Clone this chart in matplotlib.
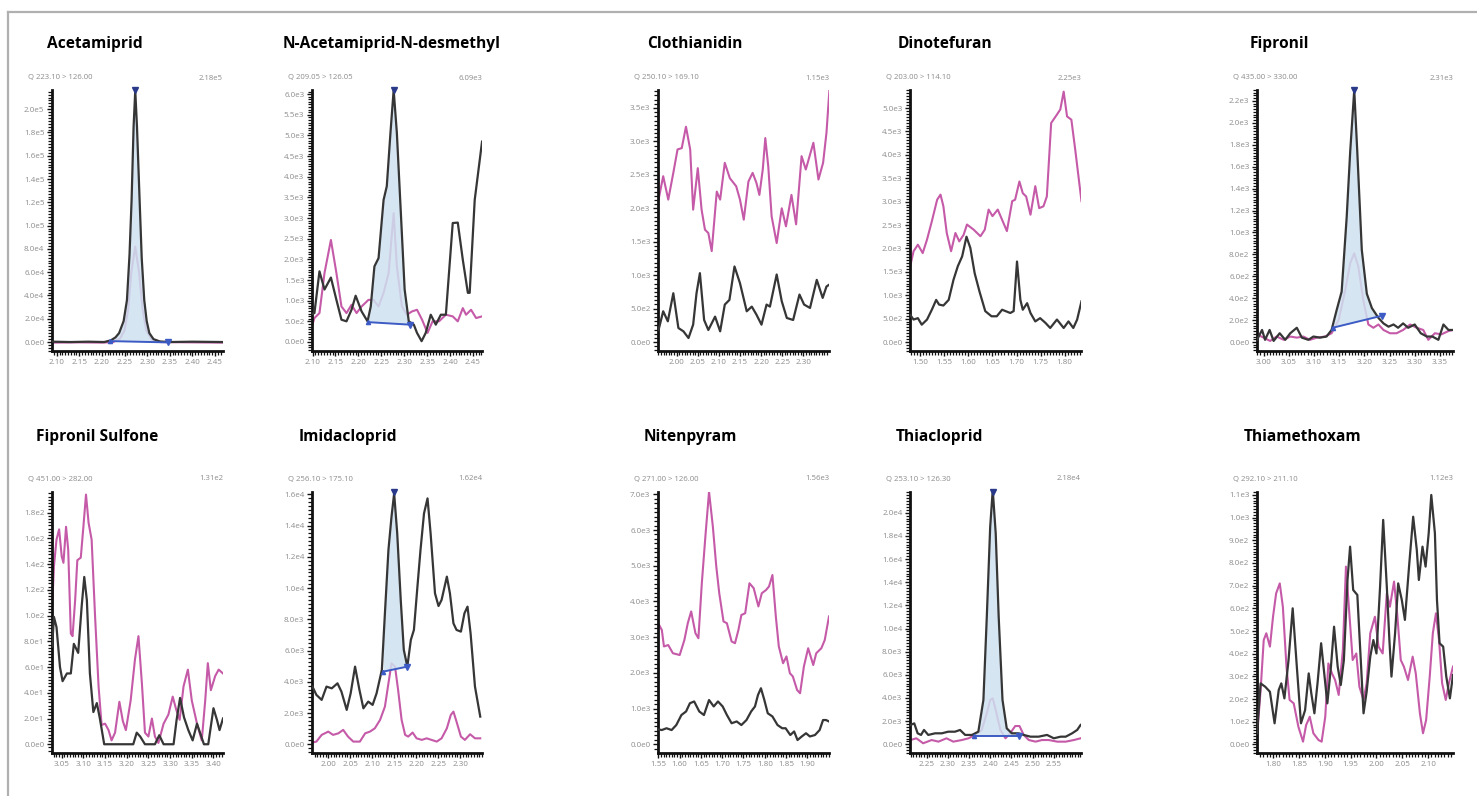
import numpy as np
import matplotlib
matplotlib.use("Agg")
import matplotlib.pyplot as plt
from matplotlib.lines import Line2D
from matplotlib.ticker import MultipleLocator, FixedLocator, FuncFormatter

# ---- data (retention time, intensity) ----
acet_bk_t = [2.090, 2.130, 2.170, 2.205, 2.220, 2.230, 2.238, 2.248, 2.2553, 2.261, 2.2656, 2.270, 2.2737,
             2.2775, 2.2833, 2.288, 2.2936, 2.299, 2.3048, 2.314, 2.328, 2.350, 2.400, 2.468]
acet_bk = [300, 0, 300, 0, 1500, 4000, 7700, 18000, 36000, 75000, 122000, 185000, 216000,
           185000, 122000, 72000, 36000, 18000, 7700, 2500, 500, 0, 300, 0]
acet_pk_t = [2.090, 2.150, 2.200, 2.225, 2.240, 2.250, 2.258, 2.265, 2.2737, 2.282, 2.290, 2.298, 2.310,
             2.330, 2.400, 2.468]
acet_pk = [-500, -300, -500, 0, 3000, 10000, 28000, 60000, 82000, 60000, 28000, 10000, 2000, 0, -300, -500]

nacet_bk_t = [2.094, 2.104, 2.115, 2.126, 2.140, 2.152, 2.163, 2.174, 2.185, 2.194, 2.207, 2.220, 2.227,
              2.235, 2.244, 2.255, 2.262, 2.270, 2.277, 2.284, 2.292, 2.301, 2.310, 2.321, 2.328, 2.338,
              2.347, 2.358, 2.369, 2.380, 2.391, 2.406, 2.417, 2.428, 2.439, 2.443, 2.454, 2.470]
nacet_bk = [660, 700, 1710, 1270, 1560, 1020, 540, 500, 780, 1120, 740, 500, 860, 1830, 2030, 3440,
            3770, 5060, 6100, 5060, 3280, 1270, 500, 420, 220, 20, 220, 660, 420, 660, 660, 2880,
            2890, 1990, 1190, 1190, 3440, 4850]
nacet_pk_t = [2.094, 2.104, 2.115, 2.126, 2.140, 2.152, 2.163, 2.174, 2.185, 2.196, 2.207, 2.222, 2.233,
              2.244, 2.255, 2.266, 2.277, 2.284, 2.295, 2.306, 2.317, 2.328, 2.339, 2.351, 2.362, 2.376,
              2.391, 2.406, 2.417, 2.428, 2.435, 2.446, 2.457, 2.470]
nacet_pk = [220, 580, 700, 1670, 2470, 1670, 860, 700, 900, 700, 860, 1020, 1020, 860, 1190, 1670,
            3120, 1830, 860, 660, 740, 780, 540, 220, 500, 500, 660, 620, 500, 820, 660, 780, 580, 620]

cloth_bk_t = [1.957, 1.968, 1.979, 1.992, 2.004, 2.016, 2.028, 2.039, 2.047, 2.055, 2.065, 2.075, 2.091,
              2.103, 2.114, 2.125, 2.137, 2.150, 2.166, 2.178, 2.189, 2.201, 2.213, 2.221, 2.237, 2.249,
              2.261, 2.276, 2.291, 2.302, 2.316, 2.332, 2.346, 2.355, 2.362]
cloth_bk = [180, 460, 310, 730, 210, 160, 60, 260, 730, 1030, 330, 180, 380, 160, 560, 630, 1130, 880,
            460, 530, 410, 260, 560, 530, 1010, 610, 360, 330, 710, 560, 510, 930, 660, 830, 860]
cloth_pk_t = [1.957, 1.968, 1.980, 1.992, 2.002, 2.012, 2.022, 2.032, 2.039, 2.050, 2.059, 2.067, 2.075,
              2.083, 2.095, 2.103, 2.114, 2.126, 2.141, 2.150, 2.159, 2.170, 2.180, 2.189, 2.196, 2.204,
              2.210, 2.217, 2.225, 2.237, 2.249, 2.259, 2.272, 2.283, 2.296, 2.306, 2.324, 2.336, 2.347,
              2.355, 2.362]
cloth_pk = [2130, 2480, 2130, 2530, 2880, 2900, 3220, 2880, 1980, 2600, 1980, 1680, 1630, 1360, 2250,
            2130, 2680, 2450, 2330, 2130, 1830, 2400, 2530, 2380, 2200, 2580, 3050, 2630, 1880, 1480,
            2000, 1730, 2200, 1760, 2780, 2580, 2980, 2430, 2680, 3130, 3770]

dino_bk_t = [1.479, 1.486, 1.495, 1.503, 1.514, 1.524, 1.533, 1.539, 1.548, 1.559, 1.569, 1.578, 1.587,
             1.596, 1.604, 1.613, 1.623, 1.635, 1.648, 1.659, 1.670, 1.687, 1.694, 1.701, 1.708, 1.713,
             1.722, 1.729, 1.739, 1.749, 1.760, 1.770, 1.784, 1.798, 1.808, 1.818, 1.826, 1.835]
dino_bk = [580, 480, 510, 370, 480, 690, 900, 800, 780, 900, 1330, 1620, 1830, 2250, 2010, 1470, 1080,
           660, 550, 550, 690, 620, 660, 1720, 900, 690, 830, 620, 440, 510, 410, 300, 480, 300, 440,
           300, 480, 870]
dino_pk_t = [1.479, 1.486, 1.495, 1.505, 1.514, 1.524, 1.535, 1.542, 1.548, 1.555, 1.564, 1.573, 1.581,
             1.590, 1.597, 1.611, 1.625, 1.634, 1.642, 1.650, 1.661, 1.680, 1.691, 1.697, 1.706, 1.713,
             1.720, 1.729, 1.739, 1.747, 1.756, 1.763, 1.772, 1.784, 1.791, 1.798, 1.805, 1.814, 1.822,
             1.835]
dino_pk = [1620, 1940, 2080, 1900, 2190, 2580, 3040, 3150, 2900, 2330, 1940, 2330, 2150, 2290, 2510,
           2400, 2260, 2400, 2830, 2690, 2830, 2370, 3010, 3040, 3430, 3180, 3110, 2720, 3330, 2860,
           2900, 3110, 4680, 4860, 4970, 5350, 4820, 4750, 4110, 3010]

fip_bk_t = [2.987, 2.997, 3.003, 3.012, 3.020, 3.032, 3.043, 3.053, 3.066, 3.076, 3.089, 3.099, 3.112,
            3.125, 3.135, 3.145, 3.155, 3.165, 3.172, 3.180, 3.186, 3.195, 3.205, 3.215, 3.228, 3.238,
            3.248, 3.258, 3.267, 3.277, 3.287, 3.300, 3.312, 3.324, 3.335, 3.347, 3.357, 3.367, 3.376]
fip_bk = [20, 110, 20, 110, 10, 80, 20, 80, 130, 40, 20, 50, 40, 50, 110, 290, 460, 1140, 1740, 2300,
          1740, 840, 440, 310, 220, 170, 140, 160, 130, 170, 130, 160, 80, 50, 50, 20, 160, 110, 110]
fip_pk_t = [2.987, 3.000, 3.013, 3.026, 3.040, 3.053, 3.066, 3.079, 3.092, 3.106, 3.122, 3.135, 3.149,
            3.162, 3.172, 3.180, 3.188, 3.198, 3.208, 3.218, 3.228, 3.238, 3.251, 3.264, 3.277, 3.291,
            3.304, 3.317, 3.327, 3.340, 3.353, 3.367, 3.376]
fip_pk = [70, 40, 10, 50, 20, 50, 40, 50, 20, 40, 50, 80, 200, 470, 720, 810, 690, 380, 160, 130, 160,
          110, 80, 80, 110, 160, 130, 110, 20, 80, 70, 100, 110]

fsulf_bk_t = [3.028, 3.032, 3.038, 3.046, 3.052, 3.062, 3.071, 3.078, 3.088, 3.096, 3.102, 3.108, 3.115,
              3.123, 3.131, 3.138, 3.148, 3.215, 3.223, 3.231, 3.242, 3.265, 3.275, 3.285, 3.308, 3.315,
              3.323, 3.332, 3.342, 3.352, 3.362, 3.369, 3.378, 3.388, 3.400, 3.408, 3.414, 3.422]
fsulf_bk = [76, 99, 91, 60, 49, 55, 55, 78, 71, 107, 130, 112, 55, 25, 32, 20, 0, 0, 9, 6, 0, 0, 7, 0,
            0, 19, 36, 21, 11, 3, 16, 9, 0, 0, 28, 19, 11, 20]
fsulf_pk_t = [3.028, 3.032, 3.038, 3.044, 3.050, 3.054, 3.060, 3.065, 3.071, 3.075, 3.081, 3.086, 3.094,
              3.100, 3.106, 3.112, 3.119, 3.127, 3.135, 3.142, 3.150, 3.158, 3.165, 3.173, 3.183, 3.191,
              3.198, 3.209, 3.219, 3.227, 3.235, 3.242, 3.250, 3.258, 3.265, 3.273, 3.285, 3.296, 3.306,
              3.314, 3.322, 3.331, 3.341, 3.350, 3.362, 3.373, 3.381, 3.387, 3.394, 3.404, 3.412, 3.422]
fsulf_pk = [107, 138, 159, 167, 146, 141, 169, 151, 86, 84, 112, 143, 145, 169, 194, 172, 159, 99, 45,
            15, 16, 11, 3, 9, 33, 18, 11, 34, 66, 84, 47, 9, 6, 20, 6, 1, 16, 23, 37, 27, 19, 45, 58,
            34, 16, 3, 34, 63, 42, 53, 58, 55]

imid_bk_t = [1.964, 1.973, 1.985, 1.996, 2.008, 2.021, 2.030, 2.042, 2.051, 2.061, 2.071, 2.080, 2.091,
             2.101, 2.110, 2.122, 2.129, 2.137, 2.144, 2.150, 2.157, 2.165, 2.172, 2.180, 2.188, 2.195,
             2.203, 2.210, 2.218, 2.226, 2.233, 2.243, 2.251, 2.258, 2.270, 2.277, 2.285, 2.292, 2.302,
             2.310, 2.317, 2.324, 2.334, 2.346]
imid_bk = [3690, 3160, 2840, 3690, 3580, 3900, 3370, 2200, 3260, 4970, 3480, 2300, 2730, 2520, 3260,
           4760, 8380, 12440, 14570, 16060, 13500, 9240, 6040, 4970, 6680, 7320, 10090, 12440, 14780,
           15740, 13500, 9660, 8850, 9240, 10730, 9660, 7740, 7320, 7210, 8380, 8810, 7100, 3690, 1770]
imid_pk_t = [1.964, 1.973, 1.985, 2.000, 2.011, 2.023, 2.034, 2.045, 2.057, 2.072, 2.084, 2.095, 2.106,
             2.118, 2.129, 2.137, 2.144, 2.152, 2.159, 2.167, 2.175, 2.182, 2.192, 2.201, 2.213, 2.224,
             2.235, 2.247, 2.258, 2.270, 2.279, 2.285, 2.292, 2.302, 2.311, 2.323, 2.334, 2.346]
imid_pk = [110, 170, 600, 810, 600, 700, 920, 490, 170, 170, 700, 810, 1020, 1560, 2410, 3900, 5180,
           4970, 3480, 1560, 600, 490, 750, 380, 280, 380, 280, 170, 380, 1020, 1880, 2090, 1450, 490,
           280, 640, 380, 380]

niten_bk_t = [1.549, 1.558, 1.569, 1.581, 1.592, 1.604, 1.615, 1.624, 1.634, 1.646, 1.657, 1.669, 1.680,
              1.690, 1.701, 1.711, 1.722, 1.734, 1.745, 1.757, 1.768, 1.777, 1.784, 1.791, 1.799, 1.807,
              1.818, 1.830, 1.841, 1.849, 1.860, 1.869, 1.877, 1.887, 1.897, 1.906, 1.918, 1.929, 1.937,
              1.944, 1.951]
niten_bk = [420, 400, 450, 400, 540, 820, 920, 1150, 1200, 920, 820, 1240, 1060, 1200, 1060, 820, 590,
            640, 540, 680, 920, 1060, 1380, 1570, 1240, 870, 780, 540, 450, 450, 260, 360, 120, 220,
            310, 220, 260, 400, 680, 680, 640]
niten_pk_t = [1.549, 1.558, 1.563, 1.573, 1.584, 1.600, 1.611, 1.619, 1.627, 1.637, 1.644, 1.652, 1.661,
              1.669, 1.678, 1.686, 1.693, 1.703, 1.711, 1.722, 1.730, 1.738, 1.745, 1.754, 1.764, 1.774,
              1.785, 1.793, 1.803, 1.810, 1.818, 1.826, 1.833, 1.843, 1.851, 1.859, 1.866, 1.876, 1.883,
              1.892, 1.902, 1.914, 1.921, 1.933, 1.941, 1.951]
niten_pk = [3400, 3200, 2740, 2780, 2550, 2500, 2920, 3390, 3720, 3110, 2970, 4510, 5910, 7070, 6090,
            4980, 4230, 3440, 3390, 2880, 2830, 3200, 3620, 3670, 4510, 4370, 3860, 4230, 4320, 4420,
            4740, 3580, 2740, 2270, 2460, 1990, 1900, 1520, 1430, 2180, 2690, 2220, 2550, 2690, 2920,
            3580]

thiac_bk_t = [2.212, 2.221, 2.229, 2.237, 2.244, 2.254, 2.270, 2.286, 2.301, 2.317, 2.329, 2.341, 2.357,
              2.372, 2.384, 2.392, 2.400, 2.406, 2.413, 2.420, 2.429, 2.439, 2.451, 2.467, 2.479, 2.495,
              2.514, 2.534, 2.550, 2.566, 2.578, 2.593, 2.605, 2.613]
thiac_bk = [1670, 1810, 950, 810, 1240, 810, 950, 950, 1090, 1090, 1240, 810, 810, 1090, 3830, 11020,
            18790, 21960, 18220, 11020, 3830, 1380, 950, 950, 810, 660, 660, 810, 520, 660, 660, 950,
            1240, 1670]
thiac_pk_t = [2.212, 2.226, 2.242, 2.262, 2.278, 2.297, 2.313, 2.333, 2.349, 2.364, 2.380, 2.392, 2.400,
              2.406, 2.413, 2.424, 2.436, 2.447, 2.459, 2.469, 2.479, 2.491, 2.507, 2.522, 2.538, 2.558,
              2.578, 2.597, 2.613]
thiac_pk = [370, 520, 90, 370, 230, 520, 230, 370, 520, 810, 1240, 2680, 3830, 3970, 2960, 1240, 520,
            950, 1580, 1580, 810, 370, 230, 370, 370, 230, 230, 370, 520]

thiam_bk_t = [1.769, 1.776, 1.785, 1.794, 1.803, 1.811, 1.816, 1.822, 1.830, 1.838, 1.846, 1.854, 1.862,
              1.869, 1.874, 1.880, 1.886, 1.893, 1.899, 1.905, 1.912, 1.918, 1.925, 1.931, 1.937, 1.944,
              1.949, 1.955, 1.963, 1.970, 1.975, 1.981, 1.988, 1.994, 2.000, 2.007, 2.013, 2.020, 2.025,
              2.029, 2.036, 2.042, 2.049, 2.055, 2.063, 2.071, 2.078, 2.082, 2.089, 2.095, 2.101, 2.106,
              2.113, 2.117, 2.122, 2.129, 2.135, 2.142, 2.148]
thiam_bk = [49, 269, 254, 232, 93, 240, 269, 203, 372, 600, 343, 93, 151, 313, 225, 137, 269, 446, 313,
            181, 343, 519, 343, 262, 372, 725, 872, 681, 659, 357, 137, 232, 387, 460, 401, 696, 990,
            696, 460, 299, 490, 710, 637, 549, 784, 1004, 857, 725, 872, 784, 931, 1100, 931, 637, 446,
            431, 299, 203, 306]
thiam_pk_t = [1.769, 1.776, 1.782, 1.787, 1.794, 1.800, 1.806, 1.813, 1.819, 1.826, 1.832, 1.840, 1.849,
              1.858, 1.864, 1.871, 1.878, 1.888, 1.894, 1.901, 1.907, 1.914, 1.920, 1.927, 1.935, 1.941,
              1.948, 1.954, 1.961, 1.967, 1.975, 1.981, 1.988, 1.997, 2.004, 2.012, 2.020, 2.026, 2.034,
              2.040, 2.047, 2.053, 2.061, 2.070, 2.076, 2.084, 2.090, 2.096, 2.103, 2.109, 2.115, 2.121,
              2.127, 2.134, 2.140, 2.148]
thiam_pk = [34, 240, 460, 490, 431, 563, 666, 710, 607, 343, 196, 181, 78, 12, 85, 122, 49, 19, 12, 122,
            357, 313, 284, 218, 416, 784, 563, 372, 401, 254, 196, 269, 490, 563, 431, 401, 666, 607,
            718, 578, 372, 343, 284, 387, 313, 137, 49, 107, 299, 490, 578, 460, 269, 196, 269, 343]

names = ["Acetamiprid", "N-Acetamiprid-N-desmethyl", "Clothianidin", "Dinotefuran", "Fipronil",
         "Fipronil Sulfone", "Imidacloprid", "Nitenpyram", "Thiacloprid", "Thiamethoxam"]
transitions = ["Q 223.10 > 126.00", "Q 209.05 > 126.05", "Q 250.10 > 169.10", "Q 203.00 > 114.10",
               "Q 435.00 > 330.00", "Q 451.00 > 282.00", "Q 256.10 > 175.10", "Q 271.00 > 126.00",
               "Q 253.10 > 126.30", "Q 292.10 > 211.10"]
max_labels = ["2.18e5", "6.09e3", "1.15e3", "2.25e3", "2.31e3", "1.31e2", "1.62e4", "1.56e3",
              "2.18e4", "1.12e3"]
xtick_labels = [["2.10", "2.15", "2.20", "2.25", "2.30", "2.35", "2.40", "2.45"],
                ["2.10", "2.15", "2.20", "2.25", "2.30", "2.35", "2.40", "2.45"],
                ["2.00", "2.05", "2.10", "2.15", "2.20", "2.25", "2.30"],
                ["1.50", "1.55", "1.60", "1.65", "1.70", "1.75", "1.80"],
                ["3.00", "3.05", "3.10", "3.15", "3.20", "3.25", "3.30", "3.35"],
                ["3.05", "3.10", "3.15", "3.20", "3.25", "3.30", "3.35", "3.40"],
                ["2.00", "2.05", "2.10", "2.15", "2.20", "2.25", "2.30"],
                ["1.55", "1.60", "1.65", "1.70", "1.75", "1.80", "1.85", "1.90"],
                ["2.25", "2.30", "2.35", "2.40", "2.45", "2.50", "2.55"],
                ["1.80", "1.85", "1.90", "1.95", "2.00", "2.05", "2.10"]]
ytick_step = [2e4, 5e2, 5e2, 5e2, 2e2, 2e1, 2e3, 1e3, 2e3, 1e2]
ytick_max = [2.0e5, 6.0e3, 3.5e3, 5.0e3, 2.2e3, 1.8e2, 1.6e4, 7.0e3, 2.0e4, 1.1e3]
xlims = [(2.0896, 2.4677), (2.0987, 2.4699), (1.9557, 2.361), (1.4786, 1.834), (2.987, 3.376),
         (3.0276, 3.422), (1.963, 2.350), (1.549, 1.951), (2.211, 2.614), (1.769, 2.148)]
ylims = [(-7.7e3, 2.165e5), (-218, 6100), (-134, 3769), (-192, 5385), (-82, 2300),
         (-6.8, 196), (-560, 16150), (-243, 7064), (-750, 21790), (-38, 1113)]

# integrated peaks: (start, end, baseline at start, baseline at end, apex time)
peaks = {0: (2.218, 2.345, 800, -300, 2.2737),
         1: (2.222, 2.312, 480, 420, 2.277),
         4: (3.137, 3.235, 130, 240, 3.180),
         6: (2.125, 2.180, 4650, 4970, 2.150),
         8: (2.361, 2.467, 720, 720, 2.406)}

traces = [(acet_bk_t, acet_bk, acet_pk_t, acet_pk), (nacet_bk_t, nacet_bk, nacet_pk_t, nacet_pk),
          (cloth_bk_t, cloth_bk, cloth_pk_t, cloth_pk), (dino_bk_t, dino_bk, dino_pk_t, dino_pk),
          (fip_bk_t, fip_bk, fip_pk_t, fip_pk), (fsulf_bk_t, fsulf_bk, fsulf_pk_t, fsulf_pk),
          (imid_bk_t, imid_bk, imid_pk_t, imid_pk), (niten_bk_t, niten_bk, niten_pk_t, niten_pk),
          (thiac_bk_t, thiac_bk, thiac_pk_t, thiac_pk), (thiam_bk_t, thiam_bk, thiam_pk_t, thiam_pk)]

# ---- layout (pixels) ----
W, H = 1477, 796
col_left = [52, 312, 658, 910, 1257]
col_width = [171, 170, 171, 171, 196]
row_top = [90, 492]
ax_h = 261
title_dx = [[-5, -29, -11, -12, -7], [-16, -13, -14, -14, -13]]
title_y = [44, 437]
q_y = [78, 479]

BLACK = "#363636"
PINK = "#c55aa8"
FILL = "#cfe1f0"
BASE = "#3d5bc4"
GRAY = "#8c8c8c"

plt.rcParams["font.family"] = ["Open Sans", "DejaVu Sans"]


def sci_fmt(v, pos):
    if abs(v) < 1e-9:
        return "0.0e0"
    e = int(np.floor(np.log10(abs(v)) + 1e-9))
    m = v / 10 ** e
    return f"{m:.1f}e{e}"


fig = plt.figure(figsize=(W / 100, H / 100), dpi=100)

# outer frame of the original figure
fig.add_artist(Line2D([8 / W, 1], [1 - 12 / H, 1 - 12 / H], color="#b0b0b0", lw=1.6))
fig.add_artist(Line2D([8 / W, 8 / W], [0, 1 - 12 / H], color="#b0b0b0", lw=1.6))

for i in range(10):
    r, c = divmod(i, 5)
    left, top, w = col_left[c], row_top[r], col_width[c]
    ax = fig.add_axes([left / W, 1 - (top + ax_h) / H, w / W, ax_h / H])
    bt, by, pt, py = traces[i]

    ax.plot(pt, py, color=PINK, lw=1.5, zorder=2, solid_joinstyle="round")
    if i in peaks:
        t0, t1, b0, b1, apex = peaks[i]
        bt_arr = np.array(bt)
        by_arr = np.array(by, dtype=float)
        # black trace inside the integration window, with the window ends added
        inner = (bt_arr > t0) & (bt_arr < t1)
        ft = np.concatenate([[t0], bt_arr[inner], [t1]])
        fy = np.interp(ft, bt_arr, by_arr)
        fb = np.interp(ft, [t0, t1], [b0, b1])
        ax.fill_between(ft, fb, fy, where=fy >= fb, interpolate=True, color=FILL, alpha=0.85,
                        lw=0, zorder=3)
        ax.plot([t0, t1], [b0, b1], color=BASE, lw=1.4, zorder=5)
        ax.plot([t0], [b0], marker="^", ms=3, color=BASE, zorder=6)
        ax.plot([t1], [b1], marker="v", ms=4, color=BASE, zorder=6)
        ax.plot([apex], [ylims[i][1]], marker="v", ms=4, color="#2a3a8a", clip_on=False, zorder=6)
    ax.plot(bt, by, color=BLACK, lw=1.6, zorder=4, solid_joinstyle="round")

    ax.set_xlim(*xlims[i])
    ax.set_ylim(*ylims[i])

    xt = [float(s) for s in xtick_labels[i]]
    ax.xaxis.set_major_locator(FixedLocator(xt))
    ax.set_xticklabels(xtick_labels[i])
    ax.xaxis.set_minor_locator(MultipleLocator(0.05 / 8))
    yt = np.arange(0, ytick_max[i] + ytick_step[i] / 2, ytick_step[i])
    ax.yaxis.set_major_locator(FixedLocator(yt))
    ax.yaxis.set_major_formatter(FuncFormatter(sci_fmt))
    ax.yaxis.set_minor_locator(MultipleLocator(ytick_step[i] / 8))

    for s in ("top", "right"):
        ax.spines[s].set_visible(False)
    for s in ("left", "bottom"):
        ax.spines[s].set_linewidth(2.0)
        ax.spines[s].set_color("#111111")
    ax.tick_params(which="major", length=3.5, width=1.0, color="#111111", labelsize=5.8,
                   labelcolor=GRAY, pad=2)
    ax.tick_params(which="minor", length=2.8, width=0.9, color="#111111")
    ax.patch.set_alpha(0)

    # compound name and transition header
    fig.text((left + title_dx[r][c]) / W, 1 - title_y[r] / H, names[i], fontsize=11.2,
             fontweight="bold", ha="left", va="center", color="black")
    fig.text((left - 24) / W, 1 - q_y[r] / H, transitions[i], fontsize=5.6, color=GRAY,
             ha="left", va="center")
    fig.text((left + w) / W, 1 - q_y[r] / H, max_labels[i], fontsize=5.6, color=GRAY,
             ha="right", va="center")

fig.savefig("out.png", dpi=100)
